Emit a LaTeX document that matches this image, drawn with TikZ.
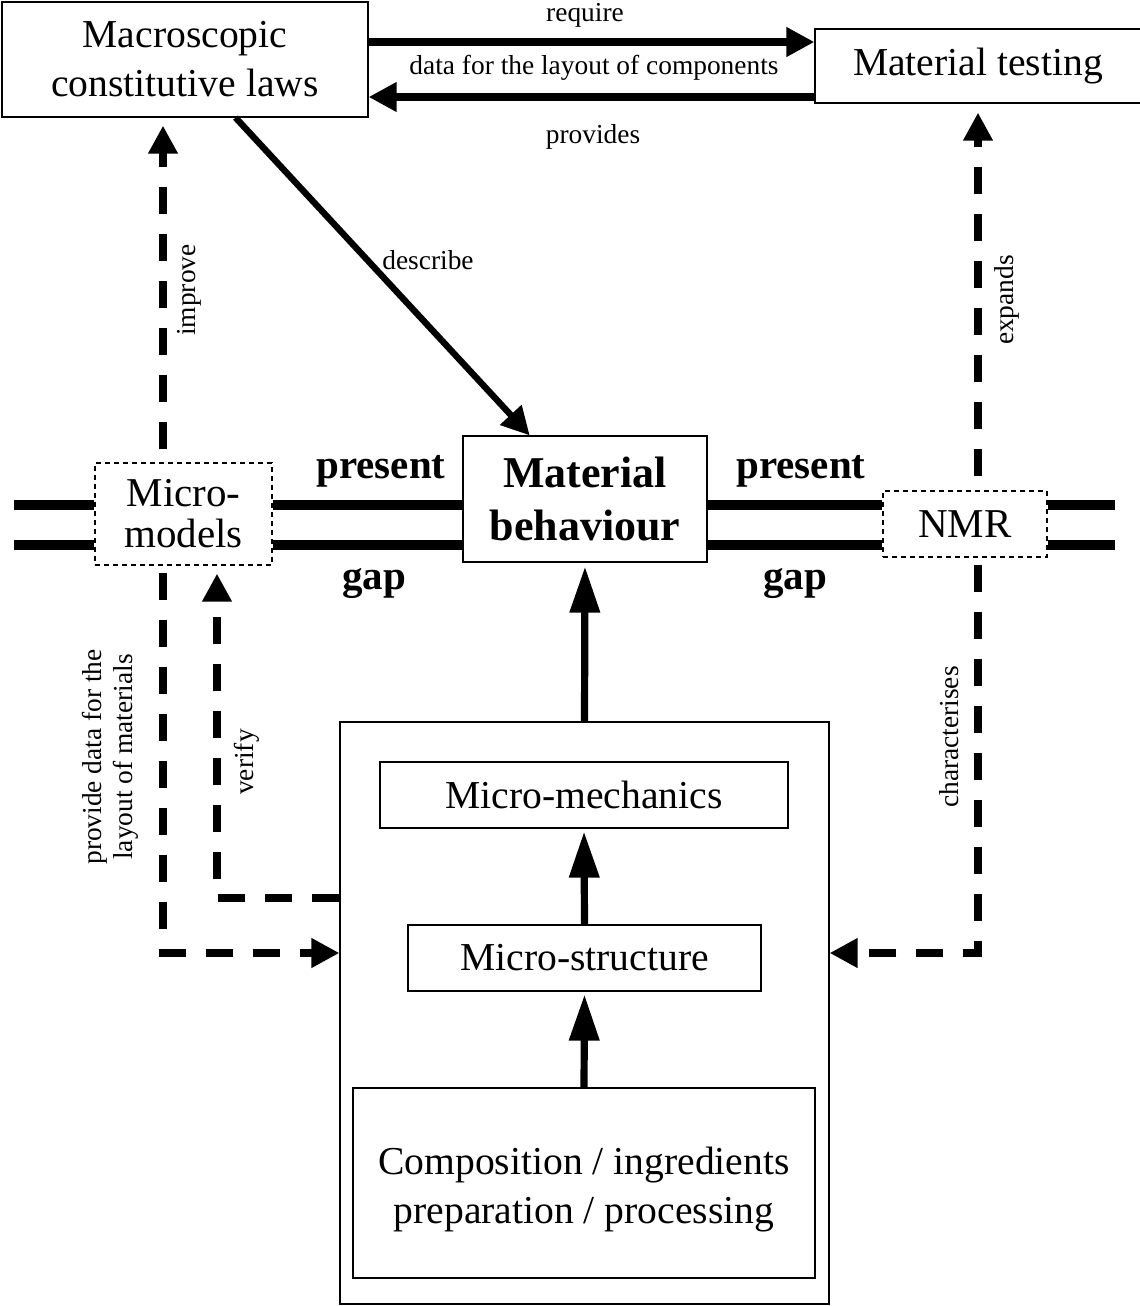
\documentclass[tikz,border=0pt]{standalone}
\usepackage{fontspec}
\setmainfont{Liberation Serif}
\usepackage{tikz}
\usetikzlibrary{arrows.meta,positioning,calc}

\begin{document}
\begin{tikzpicture}[
  x=0.5pt,y=-0.5pt,
  box/.style={draw,line width=0.6pt,align=center,inner sep=0pt,font=\fontsize{19.8}{24.5}\selectfont},
  dbox/.style={box,dash pattern=on 2.5pt off 2pt,font=\fontsize{20.5}{20.5}\selectfont},
  flow/.style={-{Triangle[length=14pt,width=14pt]},line width=3.6pt},
  lift/.style={-{Triangle[length=23pt,width=14.5pt]},line width=3.6pt},
  hint/.style={flow,dash pattern=on 13.5pt off 10pt},
  rail/.style={line width=5pt},
  lbl/.style={inner sep=0pt,align=center,font=\fontsize{13.7}{15.5}\selectfont},
  tag/.style={inner sep=0pt,font=\bfseries\fontsize{20.5}{24}\selectfont}
]
\useasboundingbox (0,0) rectangle (1140,1306);

% boxes
\node[box,minimum width=183pt,minimum height=57.5pt] (macro) at (185,59.5) {Macroscopic\\constitutive laws};
\node[box,minimum width=163pt,minimum height=37pt] (testing) at (978,66) {Material testing};
\node[box,minimum width=122pt,minimum height=63pt,font=\bfseries\fontsize{22}{26.5}\selectfont] (beh) at (585,499) {Material\\behaviour};
\node[dbox,minimum width=88.5pt,minimum height=51pt] (micro) at (183.5,514) {Micro-\\models};
\node[dbox,minimum width=82pt,minimum height=33pt] (nmr) at (965,524) {NMR};
\node[box,minimum width=244.5pt,minimum height=291pt] (outer) at (584.5,1013) {};
\node[box,minimum width=204pt,minimum height=33pt] (mech) at (584,795) {Micro-mechanics};
\node[box,minimum width=176.5pt,minimum height=33pt] (struct) at (584.5,958) {Micro-structure};
\node[box,minimum width=231pt,minimum height=95pt] (comp) at (584,1183) {\rule{0pt}{20.7pt}Composition / ingredients\\preparation / processing};

% rows and columns
\coordinate (reqrow) at (0,42);
\coordinate (provrow) at (0,97);
\coordinate (prow) at (0,953);
\coordinate (vrow) at (0,898);
\coordinate (lcol) at (163,0);
\coordinate (vcol) at (217,0);
\coordinate (rcol) at (978,0);
\coordinate (railL) at (14,0);
\coordinate (railR) at (1115,0);

% the two rails
\foreach \r in {505,545}{
  \coordinate (r) at (0,\r);
  \draw[rail] (railL |- r) -- (micro.west |- r) (micro.east |- r) -- (beh.west |- r)
    (beh.east |- r) -- (nmr.west |- r) (nmr.east |- r) -- (railR |- r);
}

% solid links
\draw[flow] (macro.east |- reqrow) -- (testing.west |- reqrow);
\draw[flow] (testing.west |- provrow) -- (macro.east |- provrow);
\draw[flow,line width=3.2pt] (macro.-49) -- (beh.131);
\draw[lift,shorten >=2pt] (outer.north) -- (beh.south);
\draw[lift,shorten >=1.5pt] (struct.north) -- (mech.south);
\draw[lift,shorten >=1.5pt] (comp.north) -- (struct.south);

% dashed links
\draw[hint,shorten <=6.5pt,shorten >=4pt] (micro.north -| lcol) -- (macro.south -| lcol);
\draw[hint,shorten <=7pt,shorten >=4.5pt] (nmr.north -| rcol) -- (testing.south -| rcol);
\draw[hint,shorten <=3.5pt] (micro.south -| lcol) |- (outer.west |- prow);
\draw[hint,shorten >=4pt] (outer.west |- vrow) -| (micro.south -| vcol);
\draw[hint,shorten <=3.5pt] (nmr.south -| rcol) |- (outer.east |- prow);

% labels
\node[lbl] (lreq) at (585,15) {require};
\node[lbl] (ldata) at (594,68) {data for the layout of components};
\node[lbl] (lprov) at (593,137) {provides};
\node[lbl] (ldesc) at (428,260) {describe};
\node[lbl,rotate=90] (limp) at (189,290) {improve};
\node[lbl,rotate=90] (lexp) at (1007,300) {expands};
\node[lbl,rotate=90] (lchar) at (949,737) {characterises};
\node[lbl,rotate=90] (lver) at (247,762) {verify};
\node[lbl,rotate=90] (lprovide) at (110,757) {provide data for the\\layout of materials};
\node[tag] (pres1) at (381,471) {present};
\node[tag] (pres2) at (801,471) {present};
\node[tag] (gap1) at (374,583) {gap};
\node[tag] (gap2) at (795,583) {gap};
\end{tikzpicture}
\end{document}
